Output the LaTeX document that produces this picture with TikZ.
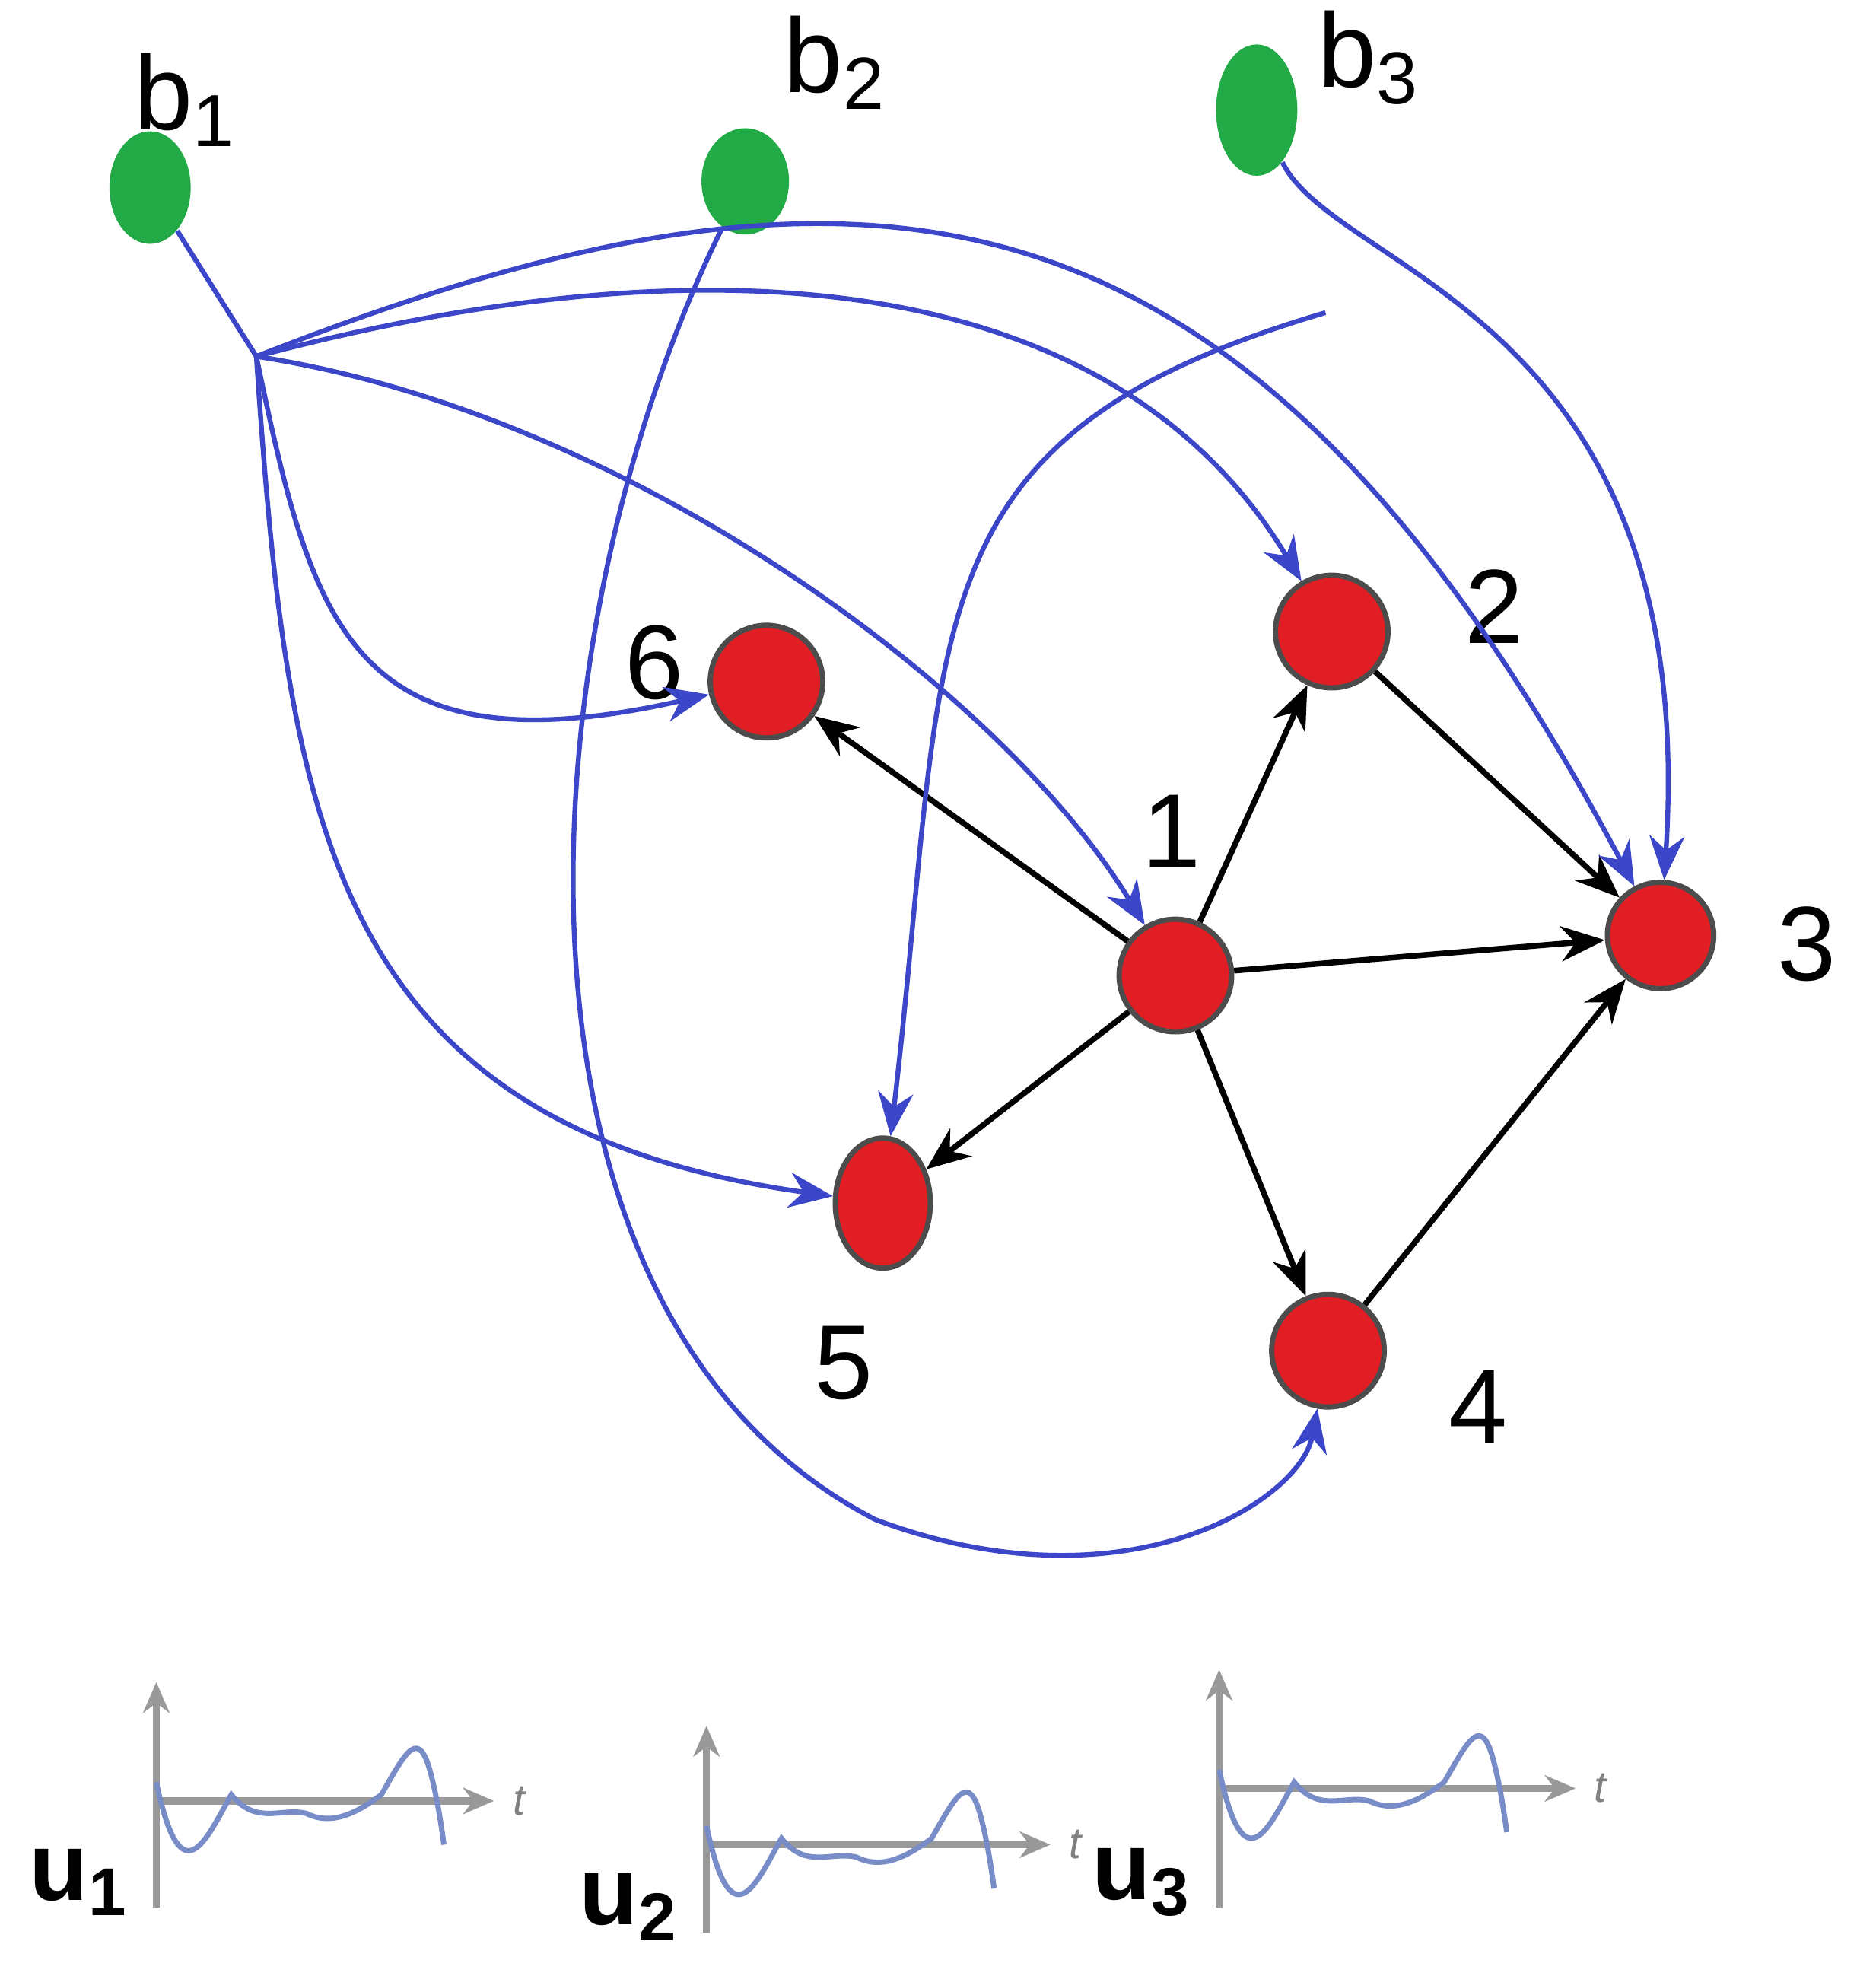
\documentclass[tikz,border=0pt]{standalone}
\usepackage{fontspec}
\setmainfont{Liberation Sans}
\usetikzlibrary{arrows.meta,shapes.geometric}
\definecolor{gn}{RGB}{34,170,70}
\definecolor{rd}{RGB}{225,30,35}
\definecolor{bl}{RGB}{60,70,200}
\definecolor{sig}{RGB}{120,140,200}
\tikzset{
 rnode/.style={circle,fill=rd,draw=black!70,line width=1.2pt,minimum size=9mm,inner sep=0pt},
 gnode/.style={ellipse,fill=gn,inner sep=0pt},
 lab/.style={font=\fontsize{24}{24}\selectfont},
 bk/.style={-{Stealth[length=10pt,width=8pt]},line width=1.3pt,black},
 bu/.style={-{Stealth[length=10pt,width=8pt]},line width=1.1pt,bl},
 ax/.style={-{Stealth[length=7pt,width=6pt]},line width=1.6pt,gray!80},
 sg/.style={line width=1.2pt,sig}
}
\begin{document}
\begin{tikzpicture}[x=0.1mm,y=-0.1mm]
\useasboundingbox (0,0) rectangle (1500,1580);
\node[gnode,minimum width=6.5mm,minimum height=9mm] (b1) at (120,150) {};
\node[gnode,minimum width=7mm,minimum height=8.5mm] (b2) at (596,145) {};
\node[gnode,minimum width=6.5mm,minimum height=10.5mm] (b3) at (1005,88) {};
\node[lab] at (148,80) {b\textsubscript{1}};
\node[lab] at (668,50) {b\textsubscript{2}};
\node[lab] at (1095,46) {b\textsubscript{3}};
\node[rnode] (n1) at (940,780) {};
\node[rnode] (n2) at (1065,505) {};
\node[rnode,minimum size=8.5mm] (n3) at (1328,748) {};
\node[rnode] (n4) at (1062,1080) {};
\node[ellipse,fill=rd,draw=black!70,line width=1.2pt,minimum width=7.6mm,minimum height=10.4mm,inner sep=0pt] (n5) at (706,962) {};
\node[rnode] (n6) at (613,545) {};
\node[lab] at (937,665) {1};
\node[lab] at (1195,485) {2};
\node[lab] at (1445,755) {3};
\node[lab] at (1182,1125) {4};
\node[lab] at (675,1090) {5};
\node[lab] at (523,530) {6};
\draw[bk] (n1) -- (n6);
\draw[bk] (n1) -- (n2);
\draw[bk] (n1) -- (n3);
\draw[bk] (n1) -- (n5);
\draw[bk] (n1) -- (n4);
\draw[bk] (n2) -- (n3);
\draw[bk] (n4) -- (n3);
\coordinate (h) at (205,285);
\draw[line width=1.1pt,bl] (b1) -- (h);
\draw[bu] (h) .. controls (250,500) and (280,620) .. (n6);
\draw[bu] (h) .. controls (230,650) and (260,900) .. (n5);
\draw[bu] (h) .. controls (600,180) and (900,230) .. (n2);
\draw[bu] (h) .. controls (500,330) and (800,550) .. (n1);
\draw[bu] (h) .. controls (700,90) and (1000,130) .. (n3);
\draw[bu] (b2) .. controls (420,500) and (380,1050) .. (700,1215) .. controls (900,1290) and (1040,1200) .. (n4);
\draw[bu] (b3) .. controls (1070,220) and (1360,250) .. (n3);
\draw[bu] (1060,250) .. controls (720,350) and (760,500) .. (n5);
\foreach \ox/\oy/\ty/\by/\ex/\nm in {125/1440/1345/1525/395/1, 565/1475/1380/1545/840/2, 975/1430/1335/1525/1260/3}{
 \draw[ax] (\ox,\by) -- (\ox,\ty);
 \draw[ax] (\ox,\oy) -- (\ex,\oy);
 \node[font=\fontsize{10}{10}\selectfont\itshape,gray] at (\ex+20,\oy) {t};
 \node[font=\bfseries\fontsize{22}{22}\selectfont] at (\ox-62,\by-20) {u\textsubscript{\nm}};
 \draw[sg] (\ox,\oy-15) .. controls (\ox+20,\oy+80) and (\ox+40,\oy+30) .. (\ox+60,\oy-5)
   .. controls (\ox+80,\oy+20) and (\ox+100,\oy+5) .. (\ox+120,\oy+10)
   .. controls (\ox+140,\oy+20) and (\ox+160,\oy+10) .. (\ox+180,\oy-5)
   .. controls (\ox+200,\oy-40) and (\ox+210,\oy-60) .. (\ox+220,\oy-20)
   .. controls (\ox+225,\oy) and (\ox+228,\oy+20) .. (\ox+230,\oy+35);
}
\end{tikzpicture}
\end{document}
